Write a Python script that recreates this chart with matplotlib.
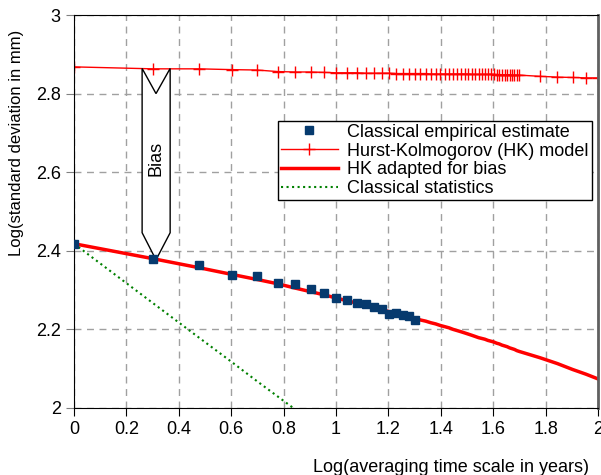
import numpy as np
import matplotlib.pyplot as plt
from matplotlib.patches import Polygon

plt.rcParams['font.family'] = ['Liberation Sans', 'DejaVu Sans']

# ===== Data (log10 of averaging time scale n in years) =====
n_emp = list(range(1, 21))
emp_sd = [2.418, 2.379, 2.363, 2.338, 2.337, 2.319, 2.315, 2.302, 2.293, 2.280,
          2.274, 2.268, 2.264, 2.258, 2.252, 2.239, 2.243, 2.236, 2.233, 2.224]

n_hk = list(range(1, 51)) + [60, 70, 80, 90, 100]
hk_sd = [2.868, 2.863, 2.863, 2.861, 2.860, 2.856, 2.855, 2.855, 2.854, 2.853,
         2.853, 2.853, 2.852, 2.852, 2.852, 2.852, 2.851, 2.851, 2.851, 2.851,
         2.851, 2.851, 2.850, 2.850, 2.850, 2.850, 2.850, 2.850, 2.850, 2.850,
         2.850, 2.850, 2.849, 2.849, 2.849, 2.849, 2.849, 2.849, 2.849, 2.849,
         2.848, 2.848, 2.848, 2.848, 2.848, 2.848, 2.847, 2.847, 2.847, 2.847,
         2.844, 2.842, 2.841, 2.840, 2.840]
hk_bias_sd = [2.418, 2.380, 2.357, 2.340, 2.327, 2.316, 2.305, 2.296, 2.288, 2.280,
              2.273, 2.267, 2.261, 2.255, 2.250, 2.245, 2.241, 2.236, 2.232, 2.228,
              2.224, 2.221, 2.217, 2.214, 2.210, 2.207, 2.204, 2.200, 2.197, 2.194,
              2.191, 2.188, 2.185, 2.182, 2.179, 2.177, 2.175, 2.172, 2.170, 2.168,
              2.165, 2.163, 2.160, 2.158, 2.156, 2.153, 2.151, 2.149, 2.146, 2.144,
              2.128, 2.113, 2.098, 2.086, 2.074]

n_cls = [1, 2, 3, 4, 5, 6, 7]
cls_sd = [2.418, 2.267, 2.179, 2.117, 2.068, 2.029, 1.996]

# ===== Figure =====
fig = plt.figure(figsize=(6.01, 4.75), dpi=100)
ax = fig.add_axes([74 / 601, 67 / 475, 524 / 601, 393 / 475])

ax.plot(np.log10(n_emp), emp_sd, 's', color='#063a6e', ms=5.5, zorder=5,
        label='Classical empirical estimate')
ax.plot(np.log10(n_hk), hk_sd, '-', marker='+', color='red', lw=1, ms=8,
        mew=1, label='Hurst-Kolmogorov (HK) model')
ax.plot(np.log10(n_hk), hk_bias_sd, '-', color='red', lw=2.5,
        label='HK adapted for bias')
ax.plot(np.log10(n_cls), cls_sd, ':', color='green', lw=1.5,
        label='Classical statistics')

# block arrow marking the bias
arrow = Polygon([(0.260, 2.864), (0.313, 2.800), (0.367, 2.864),
                 (0.367, 2.446), (0.313, 2.377), (0.260, 2.446)],
                closed=True, facecolor='white', edgecolor='black', lw=1, zorder=4)
ax.add_patch(arrow)
ax.text(0.313, 2.636, 'Bias', rotation=90, ha='center', va='center',
        fontsize=13, zorder=6)

ax.set_xlim(0, 2)
ax.set_ylim(2, 3)
ax.set_xticks(np.arange(0, 2.01, 0.2))
ax.set_xticklabels(['0', '0.2', '0.4', '0.6', '0.8', '1', '1.2', '1.4', '1.6', '1.8', '2'])
ax.set_yticks(np.arange(2, 3.01, 0.2))
ax.set_yticklabels(['2', '2.2', '2.4', '2.6', '2.8', '3'])
ax.tick_params(axis='both', labelsize=13, direction='out', length=6)
ax.tick_params(axis='y', color='#808080')
ax.grid(True, color='#a0a0a0', linestyle=(0, (5, 4)), lw=1)

ax.spines['right'].set_color('#606060')
ax.spines['right'].set_linewidth(2)

ax.set_xlabel('Log(averaging time scale in years)', fontsize=13)
ax.xaxis.set_label_coords(0.72, -0.13)
ax.set_ylabel('Log(standard deviation in mm)', fontsize=12)
ax.yaxis.set_label_coords(-0.095, 0.674)

leg = ax.legend(loc='upper left', bbox_to_anchor=(0.389, 0.730), fontsize=13,
                frameon=True, fancybox=False, framealpha=1, edgecolor='black',
                handlelength=3.2, labelspacing=0.1, borderpad=0.15,
                handletextpad=0.5, borderaxespad=0)
leg.get_frame().set_linewidth(1)

plt.savefig('out.png', dpi=100)
